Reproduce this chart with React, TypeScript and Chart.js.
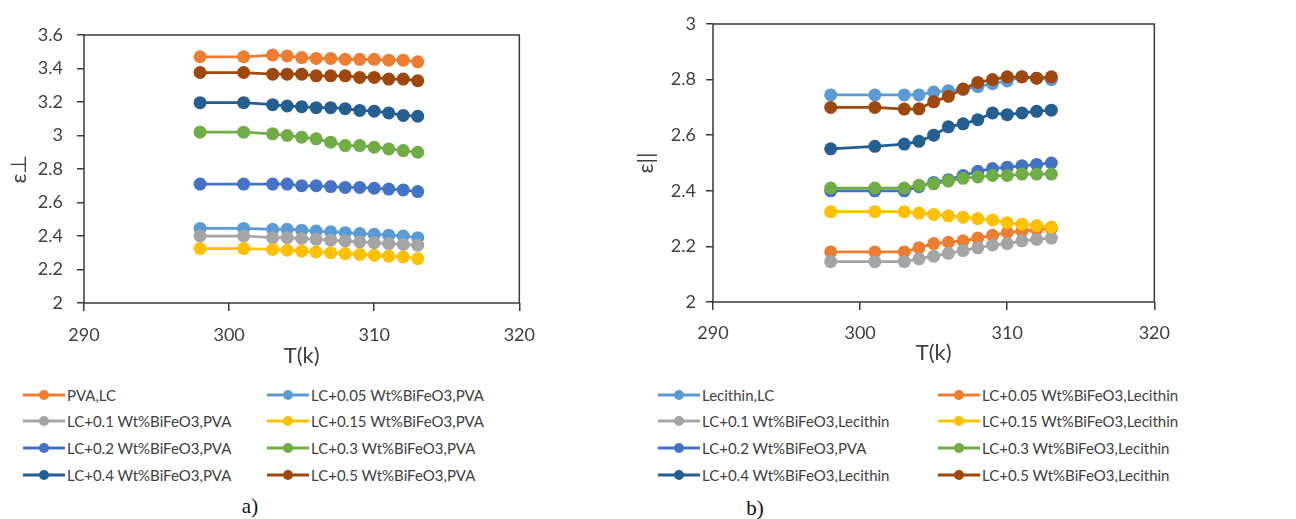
import React, { useEffect, useRef } from "react";
import { Chart, registerables } from "chart.js";

Chart.register(...registerables);

// ---------------- data ----------------
const temperatures = [298, 301, 303, 304, 305, 306, 307, 308, 309, 310, 311, 312, 313];

const xTicks = { min: 290, max: 320, step: 10 };
const leftYTicks = { min: 2, max: 3.6, step: 0.2 };
const rightYTicks = { min: 2, max: 3, step: 0.2 };

const seriesColors = {
  orange: "#ED7D31",
  lightBlue: "#5B9BD5",
  gray: "#A5A5A5",
  yellow: "#FFC000",
  blue: "#4472C4",
  green: "#70AD47",
  darkBlue: "#255E91",
  brown: "#9E480E",
};

// Panel a) PVA
const pvaLabels = [
  "PVA,LC",
  "LC+0.05 Wt%BiFeO3,PVA",
  "LC+0.1 Wt%BiFeO3,PVA",
  "LC+0.15 Wt%BiFeO3,PVA",
  "LC+0.2 Wt%BiFeO3,PVA",
  "LC+0.3 Wt%BiFeO3,PVA",
  "LC+0.4 Wt%BiFeO3,PVA",
  "LC+0.5 Wt%BiFeO3,PVA",
];
const pvaColors = [
  seriesColors.orange,
  seriesColors.lightBlue,
  seriesColors.gray,
  seriesColors.yellow,
  seriesColors.blue,
  seriesColors.green,
  seriesColors.darkBlue,
  seriesColors.brown,
];
const pvaLC = [3.47, 3.47, 3.48, 3.475, 3.465, 3.46, 3.46, 3.455, 3.455, 3.455, 3.45, 3.45, 3.44];
const pva005 = [2.445, 2.445, 2.44, 2.44, 2.435, 2.43, 2.425, 2.42, 2.415, 2.41, 2.405, 2.4, 2.39];
const pva01 = [2.4, 2.4, 2.39, 2.39, 2.385, 2.38, 2.375, 2.37, 2.365, 2.36, 2.355, 2.35, 2.345];
const pva015 = [2.325, 2.325, 2.32, 2.315, 2.31, 2.305, 2.3, 2.295, 2.29, 2.285, 2.28, 2.275, 2.265];
const pva02 = [2.71, 2.71, 2.71, 2.71, 2.7, 2.7, 2.695, 2.69, 2.69, 2.685, 2.68, 2.675, 2.665];
const pva03 = [3.02, 3.02, 3.01, 3.0, 2.99, 2.98, 2.96, 2.94, 2.94, 2.93, 2.92, 2.91, 2.9];
const pva04 = [3.196, 3.196, 3.184, 3.176, 3.172, 3.166, 3.166, 3.16, 3.15, 3.145, 3.135, 3.12, 3.115];
const pva05 = [3.376, 3.376, 3.366, 3.366, 3.366, 3.356, 3.356, 3.356, 3.347, 3.347, 3.337, 3.337, 3.327];

// Panel b) Lecithin
const lecLabels = [
  "Lecithin,LC",
  "LC+0.05 Wt%BiFeO3,Lecithin",
  "LC+0.1 Wt%BiFeO3,Lecithin",
  "LC+0.15 Wt%BiFeO3,Lecithin",
  "LC+0.2 Wt%BiFeO3,PVA",
  "LC+0.3 Wt%BiFeO3,Lecithin",
  "LC+0.4 Wt%BiFeO3,Lecithin",
  "LC+0.5 Wt%BiFeO3,Lecithin",
];
const lecColors = [
  seriesColors.lightBlue,
  seriesColors.orange,
  seriesColors.gray,
  seriesColors.yellow,
  seriesColors.blue,
  seriesColors.green,
  seriesColors.darkBlue,
  seriesColors.brown,
];
const lecLC = [2.745, 2.745, 2.745, 2.745, 2.755, 2.76, 2.765, 2.775, 2.785, 2.795, 2.81, 2.805, 2.8];
const lec005 = [2.18, 2.18, 2.18, 2.195, 2.21, 2.215, 2.22, 2.23, 2.24, 2.25, 2.255, 2.26, 2.265];
const lec01 = [2.145, 2.145, 2.145, 2.155, 2.165, 2.175, 2.185, 2.195, 2.205, 2.21, 2.22, 2.225, 2.23];
const lec015 = [2.325, 2.325, 2.325, 2.32, 2.315, 2.31, 2.305, 2.3, 2.295, 2.285, 2.28, 2.275, 2.27];
const lec02 = [2.4, 2.4, 2.4, 2.415, 2.43, 2.44, 2.455, 2.47, 2.48, 2.485, 2.49, 2.495, 2.5];
const lec03 = [2.41, 2.41, 2.41, 2.42, 2.425, 2.435, 2.445, 2.45, 2.455, 2.455, 2.46, 2.46, 2.46];
const lec04 = [2.551, 2.56, 2.568, 2.578, 2.6, 2.63, 2.641, 2.656, 2.68, 2.674, 2.68, 2.686, 2.69];
const lec05 = [2.7, 2.7, 2.694, 2.695, 2.72, 2.74, 2.766, 2.79, 2.8, 2.81, 2.81, 2.805, 2.81];

const pvaSeries = [pvaLC, pva005, pva01, pva015, pva02, pva03, pva04, pva05];
const lecSeries = [lecLC, lec005, lec01, lec015, lec02, lec03, lec04, lec05];

// ---------------- styling ----------------
const FONT = "Lato, 'Open Sans', sans-serif";
const TEXT_COLOR = "#404040";
const AXIS_COLOR = "#3a3a3a";

const boxPlugin = {
  id: "plotBox",
  afterDatasetsDraw(chart: any) {
    const { ctx, chartArea } = chart;
    ctx.save();
    ctx.strokeStyle = AXIS_COLOR;
    ctx.lineWidth = 1.5;
    ctx.strokeRect(chartArea.left, chartArea.top, chartArea.right - chartArea.left, chartArea.bottom - chartArea.top);
    ctx.restore();
  },
};

type PanelSpec = {
  labels: string[];
  colors: string[];
  series: number[][];
  yTicks: { min: number; max: number; step: number };
  yTitle: string;
  yTitlePad: number;
  yAxisWidth: number;
  yTickPad: number;
  xAxisHeight: number;
  xTickPad: number;
  xTitlePad: number;
  topPad: number;
  rightPad: number;
  width: number;
  height: number;
};

function buildConfig(p: PanelSpec): any {
  const n = p.series.length;
  return {
    type: "line",
    data: {
      datasets: p.series.map((vals, i) => ({
        label: p.labels[i],
        data: temperatures.map((t, k) => ({ x: t, y: vals[k] })),
        borderColor: p.colors[i],
        backgroundColor: p.colors[i],
        pointBackgroundColor: p.colors[i],
        pointBorderColor: p.colors[i],
        pointRadius: 6.5,
        pointBorderWidth: 0,
        borderWidth: 2.75,
        tension: 0,
        fill: false,
        order: n - i,
      })),
    },
    options: {
      responsive: false,
      animation: false,
      devicePixelRatio: 1,
      layout: { padding: { top: p.topPad, right: p.rightPad, left: 0, bottom: 0 } },
      plugins: { legend: { display: false }, tooltip: { enabled: false }, title: { display: false } },
      scales: {
        x: {
          type: "linear",
          min: xTicks.min,
          max: xTicks.max,
          afterFit: (s: any) => {
            s.height = p.xAxisHeight;
          },
          ticks: {
            stepSize: xTicks.step,
            color: TEXT_COLOR,
            font: { family: FONT, size: 18 },
            padding: p.xTickPad,
            maxRotation: 0,
          },
          grid: { drawOnChartArea: false, drawTicks: true, tickLength: 8, color: AXIS_COLOR, lineWidth: 1.5 },
          border: { display: false },
          title: {
            display: true,
            text: "T(k)",
            color: TEXT_COLOR,
            font: { family: FONT, size: 22 },
            padding: { top: 0, bottom: p.xTitlePad },
          },
        },
        y: {
          type: "linear",
          min: p.yTicks.min,
          max: p.yTicks.max,
          afterFit: (s: any) => {
            s.width = p.yAxisWidth;
          },
          ticks: {
            stepSize: p.yTicks.step,
            color: TEXT_COLOR,
            font: { family: FONT, size: 18 },
            padding: p.yTickPad,
            callback: (v: any) => String(Math.round(Number(v) * 10) / 10),
          },
          grid: { drawOnChartArea: false, drawTicks: true, tickLength: 7, color: AXIS_COLOR, lineWidth: 1.5 },
          border: { display: false },
          title: {
            display: true,
            text: p.yTitle,
            color: TEXT_COLOR,
            font: { family: FONT, size: 22 },
            padding: { top: p.yTitlePad, bottom: 0 },
          },
        },
      },
    },
    plugins: [boxPlugin],
  };
}

function ChartPanel({ spec, left, top }: { spec: PanelSpec; left: number; top: number }) {
  const ref = useRef<HTMLCanvasElement | null>(null);
  useEffect(() => {
    if (!ref.current) return;
    const chart = new Chart(ref.current, buildConfig(spec));
    return () => chart.destroy();
  }, [spec]);
  return (
    <canvas
      ref={ref}
      width={spec.width}
      height={spec.height}
      style={{ position: "absolute", left, top, width: spec.width, height: spec.height }}
    />
  );
}

function LegendBlock({
  labels,
  colors,
  colX,
  rowY,
}: {
  labels: string[];
  colors: string[];
  colX: number[];
  rowY: number[];
}) {
  return (
    <>
      {labels.map((lab, i) => {
        const col = i % 2;
        const row = Math.floor(i / 2);
        return (
          <div
            key={lab + i}
            style={{
              position: "absolute",
              left: colX[col],
              top: rowY[row] - 11,
              height: 22,
              display: "flex",
              alignItems: "center",
              whiteSpace: "nowrap",
            }}
          >
            <svg width={42} height={14} style={{ display: "block" }}>
              <line x1={0} y1={7} x2={42} y2={7} stroke={colors[i]} strokeWidth={3} />
              <circle cx={21} cy={7} r={5} fill={colors[i]} />
            </svg>
            <span style={{ marginLeft: 2, fontFamily: FONT, fontSize: 15, color: TEXT_COLOR, lineHeight: "22px" }}>
              {lab}
            </span>
          </div>
        );
      })}
    </>
  );
}

const leftSpec: PanelSpec = {
  labels: pvaLabels,
  colors: pvaColors,
  series: pvaSeries,
  yTicks: leftYTicks,
  yTitle: "ε⊥",
  yTitlePad: 6,
  yAxisWidth: 84,
  yTickPad: 14,
  xAxisHeight: 70,
  xTickPad: 13,
  xTitlePad: 4,
  topPad: 35,
  rightPad: 7,
  width: 548,
  height: 373,
};

const rightSpec: PanelSpec = {
  labels: lecLabels,
  colors: lecColors,
  series: lecSeries,
  yTicks: rightYTicks,
  yTitle: "ε||",
  yTitlePad: 8,
  yAxisWidth: 88,
  yTickPad: 10,
  xAxisHeight: 65,
  xTickPad: 12,
  xTitlePad: 1,
  topPad: 24,
  rightPad: 7,
  width: 557,
  height: 367,
};

const legendRows = [395, 421, 448, 475];

export default function App() {
  return (
    <div style={{ position: "absolute", left: 0, top: 0, width: 1296, height: 519, background: "#fff", overflow: "hidden" }}>
      <ChartPanel spec={leftSpec} left={0} top={0} />
      <ChartPanel spec={rightSpec} left={625} top={0} />
      <LegendBlock labels={pvaLabels} colors={pvaColors} colX={[23, 267]} rowY={legendRows} />
      <LegendBlock labels={lecLabels} colors={lecColors} colX={[658, 938]} rowY={legendRows} />
      <div
        style={{
          position: "absolute",
          left: 250,
          top: 506,
          transform: "translate(-50%, -50%)",
          fontFamily: "'Liberation Serif', serif",
          fontSize: 21,
          color: "#111",
        }}
      >
        a)
      </div>
      <div
        style={{
          position: "absolute",
          left: 755,
          top: 508,
          transform: "translate(-50%, -50%)",
          fontFamily: "'Liberation Serif', serif",
          fontSize: 21,
          color: "#111",
        }}
      >
        b)
      </div>
    </div>
  );
}
